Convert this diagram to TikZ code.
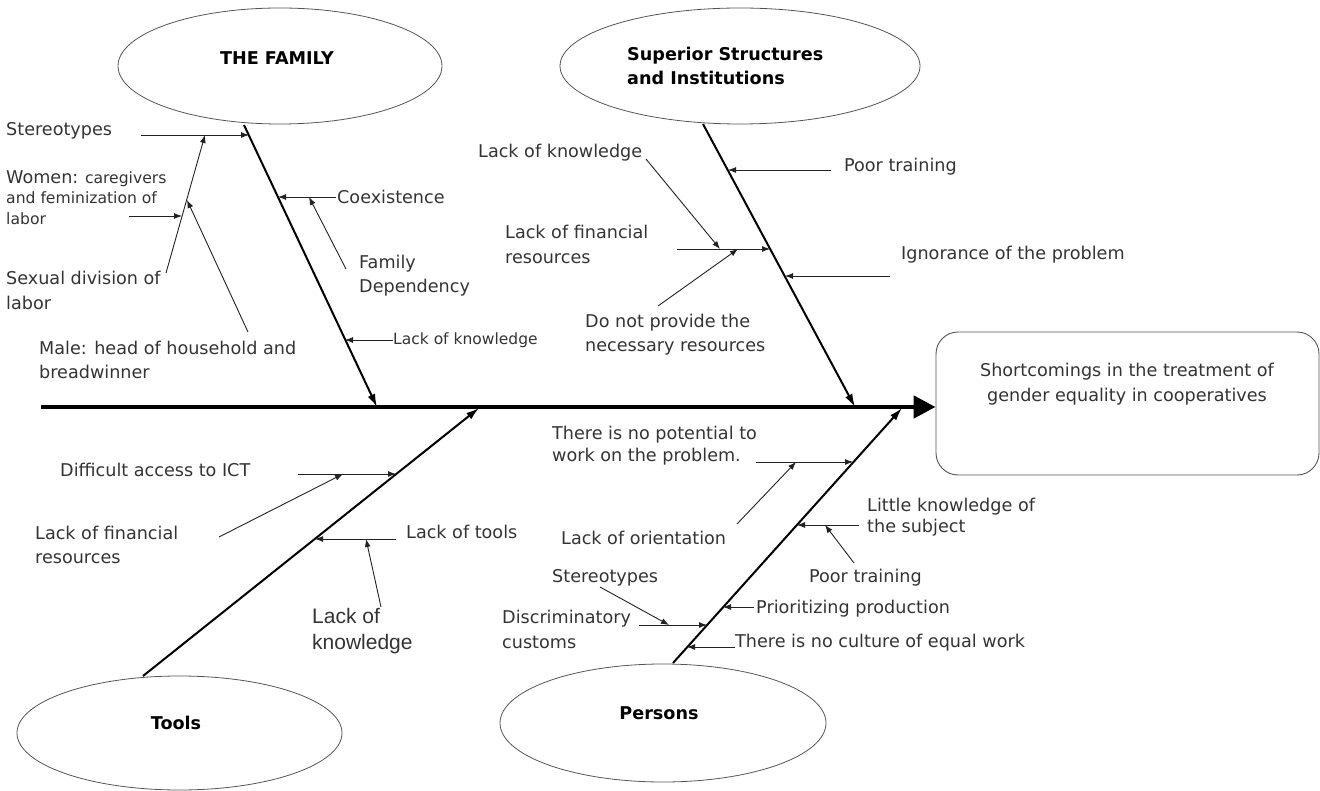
\documentclass[tikz,border=0pt]{standalone}
\usepackage{fontspec}
\setmainfont{DejaVu Sans}
\newfontfamily\arialf{Liberation Sans}
\usetikzlibrary{shapes.geometric,arrows.meta}
\definecolor{txt}{HTML}{333333}
\definecolor{ln}{HTML}{222222}
\definecolor{ell}{HTML}{555555}
\begin{document}
\begin{tikzpicture}[x=1pt,y=-1pt,
  lbl/.style={anchor=west,inner sep=0pt,text=txt,align=left,font=\fontsize{17.6}{25}\selectfont},
  ttl/.style={inner sep=0pt,text=black,font=\bfseries\fontsize{17.6}{24}\selectfont,align=left},
  cat/.style={draw=ell,line width=0.8pt,ellipse,inner sep=0pt},
  sub/.style={draw=ln,line width=0.9pt,-{Latex[length=8pt,width=6pt]}},
  bone/.style={draw=black,line width=2pt,-{Latex[length=13pt,width=8pt]}},
  spine/.style={draw=black,line width=4.8pt,-{Triangle[length=22pt,width=22pt]}},
]
\useasboundingbox (0,0) rectangle (1320,791);

% effect
\node[draw=ell,line width=0.9pt,rounded corners=22pt,minimum width=383pt,minimum height=143pt,inner sep=0pt] (effect) at (1127.5,403.5) {};
\node[inner sep=0pt,text=txt,align=center,font=\fontsize{17.6}{25}\selectfont] (efft) at (1127,384.5) {Shortcomings in the treatment of\\gender equality in cooperatives};
\coordinate (tail) at (41,407);
\draw[spine] (tail) -- (tail -| effect.west);

% categories
\node[cat,minimum width=324pt,minimum height=116pt] (fam) at (280,66) {};
\node[ttl] (famt) at (277,58) {THE FAMILY};
\node[cat,minimum width=360pt,minimum height=116pt] (sup) at (740,66) {};
\node[ttl,anchor=west] (supt) at (627,66) {Superior Structures\\and Institutions};
\node[cat,minimum width=325pt,minimum height=114pt] (tools) at (179.5,733) {};
\node[ttl] (toolst) at (176,723) {Tools};
\node[cat,minimum width=326pt,minimum height=118pt] (pers) at (663,723) {};
\node[ttl] (perst) at (659,713) {Persons};

% bones
\coordinate (famA) at (244,125); \coordinate (famB) at (377,407);
\coordinate (supA) at (703,124); \coordinate (supB) at (855,407);
\coordinate (toolA) at (143,676); \coordinate (toolB) at (479,408);
\coordinate (perA) at (673,663); \coordinate (perB) at (902,408);
\draw[bone] (famA) -- (famB);
\draw[bone] (supA) -- (supB);
\draw[bone] (toolA) -- (toolB);
\draw[bone] (perA) -- (perB);

% ---- family
\node[lbl] (f1) at (6,131) {Stereotypes};
\node[lbl,font=\fontsize{15.6}{20.5}\selectfont] (f2) at (6,197.5) {{\fontsize{17.6}{20.5}\selectfont Women:} caregivers\\and feminization of\\labor};
\node[lbl] (f3) at (6,290.5) {Sexual division of\\labor};
\node[lbl,font=\fontsize{17.6}{24}\selectfont] (f4) at (39,360) {Male: head of household and\\breadwinner};
\node[lbl] (f5) at (337,197) {Coexistence};
\node[lbl,font=\fontsize{17.6}{24}\selectfont] (f6) at (359,276) {Family\\Dependency};
\node[lbl,font=\fontsize{15.5}{20}\selectfont] (f7) at (393,340) {Lack of knowledge};

\coordinate (f1s) at (141,135); \coordinate (f1e) at (249,135);
\coordinate (f3s) at (166,273); \coordinate (f3e) at (205,135);
\coordinate (f2s) at (129,216); \coordinate (f2e) at (182,216);
\coordinate (f4s) at (248,332); \coordinate (f4e) at (187,200);
\coordinate (f5s) at (336,197); \coordinate (f5e) at (278,197);
\coordinate (f6s) at (346,269); \coordinate (f6e) at (309,197);
\coordinate (f7s) at (393,340); \coordinate (f7e) at (345,340);
\draw[sub] (f1s) -- (f1e);
\draw[sub] (f3s) -- (f3e);
\draw[sub] (f2s) -- (f2e);
\draw[sub] (f4s) -- (f4e);
\draw[sub] (f5s) -- (f5e);
\draw[sub] (f6s) -- (f6e);
\draw[sub] (f7s) -- (f7e);

% ---- superior structures
\node[lbl] (s1) at (478,153) {Lack of knowledge};
\node[lbl] (s2) at (844,167) {Poor training};
\node[lbl] (s3) at (505,244.5) {Lack of financial\\resources};
\node[lbl] (s4) at (901,255) {Ignorance of the problem};
\node[lbl,font=\fontsize{17.6}{24}\selectfont] (s5) at (585,335) {Do not provide the\\necessary resources};

\coordinate (s2s) at (831,170); \coordinate (s2e) at (728,170);
\coordinate (s3s) at (677,249); \coordinate (s3e) at (770,249);
\coordinate (s4s) at (890,276); \coordinate (s4e) at (785,276);
\coordinate (s1s) at (646,159); \coordinate (s1e) at (720,249);
\coordinate (s5s) at (658,306); \coordinate (s5e) at (738,249);
\draw[sub] (s2s) -- (s2e);
\draw[sub] (s3s) -- (s3e);
\draw[sub] (s4s) -- (s4e);
\draw[sub] (s1s) -- (s1e);
\draw[sub] (s5s) -- (s5e);

% ---- tools
\node[lbl] (t1) at (60,470) {Difficult access to ICT};
\node[lbl,font=\fontsize{17.6}{24}\selectfont] (t2) at (35,545) {Lack of financial\\resources};
\node[lbl] (t3) at (406,532) {Lack of tools};
\node[lbl,font=\arialf\fontsize{21}{26}\selectfont] (t4) at (312,631) {Lack of\\knowledge};

\coordinate (t1s) at (298,474); \coordinate (t1e) at (396,474);
\coordinate (t2s) at (219,537); \coordinate (t2e) at (343,474);
\coordinate (t3s) at (396,539); \coordinate (t3e) at (315,539);
\coordinate (t4s) at (381,607); \coordinate (t4e) at (366,539);
\draw[sub] (t1s) -- (t1e);
\draw[sub] (t2s) -- (t2e);
\draw[sub] (t3s) -- (t3e);
\draw[sub] (t4s) -- (t4e);

% ---- persons
\node[lbl,font=\fontsize{17.6}{22}\selectfont] (p1) at (552,446) {There is no potential to\\work on the problem.};
\node[lbl] (p2) at (561,538) {Lack of orientation};
\node[lbl,font=\fontsize{17.6}{21}\selectfont] (p3) at (867,517.5) {Little knowledge of\\the subject};
\node[lbl] (p4) at (809,578) {Poor training};
\node[lbl] (p5) at (552,578) {Stereotypes};
\node[lbl] (p6) at (502,629.5) {Discriminatory\\customs};
\node[lbl] (p7) at (756,609) {Prioritizing production};
\node[lbl] (p8) at (735,643) {There is no culture of equal work};

\coordinate (p1s) at (756,462); \coordinate (p1e) at (853,462);
\coordinate (p2s) at (737,524); \coordinate (p2e) at (796,462);
\coordinate (p3s) at (859,525); \coordinate (p3e) at (797,525);
\coordinate (p4s) at (854,563); \coordinate (p4e) at (825,525);
\coordinate (p7s) at (754,607); \coordinate (p7e) at (723,607);
\coordinate (p6s) at (639,625); \coordinate (p6e) at (707,625);
\coordinate (p5s) at (600,587); \coordinate (p5e) at (669,625);
\coordinate (p8s) at (735,647); \coordinate (p8e) at (687,647);
\draw[sub] (p1s) -- (p1e);
\draw[sub] (p2s) -- (p2e);
\draw[sub] (p3s) -- (p3e);
\draw[sub] (p4s) -- (p4e);
\draw[sub] (p7s) -- (p7e);
\draw[sub] (p6s) -- (p6e);
\draw[sub] (p5s) -- (p5e);
\draw[sub] (p8s) -- (p8e);
\end{tikzpicture}
\end{document}
